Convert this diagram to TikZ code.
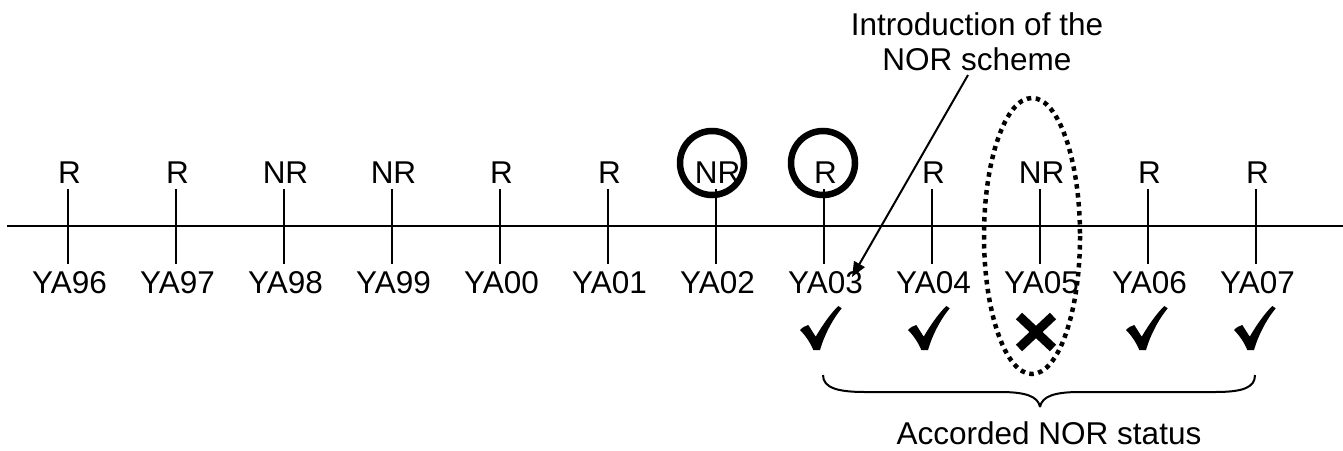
\documentclass[tikz,border=0pt]{standalone}
\usepackage{fontspec}
\setmainfont{Liberation Sans}
\usetikzlibrary{arrows.meta}
\begin{document}
\begin{tikzpicture}[x=1pt,y=-1pt,
  lbl/.style={inner sep=0pt,font=\fontsize{31.5}{36}\selectfont},
  tickline/.style={line width=2pt},
  ring/.style={line width=6.5pt},
  dotring/.style={line width=4.5pt,dash pattern=on 4.5pt off 4.5pt},
  chk/.style={fill=black},
]
\useasboundingbox (0,0) rectangle (1343,450);
% timeline
\coordinate (tl0) at (7,226);
\coordinate (tl1) at (1343,226);
\draw[tickline] (tl0) -- (tl1);
\foreach \i/\t/\y in {0/R/96,1/R/97,2/NR/98,3/NR/99,4/R/00,5/R/01,6/NR/02,7/R/03,8/R/04,9/NR/05,10/R/06,11/R/07}{
  \pgfmathsetmacro{\xx}{68+108*\i}
  \coordinate (tt\i) at (\xx,189);
  \coordinate (tb\i) at (\xx,264);
  \draw[tickline] (tt\i) -- (tb\i);
  \node[lbl,anchor=base] (top\i) at (\xx+1.5,183) {\t};
  \node[lbl,anchor=base] (bot\i) at (\xx+1.5,293.5) {YA\y};
}
% circles
\node[ring,draw,circle,minimum size=64pt,inner sep=0pt] (c6) at (712,163) {};
\node[ring,draw,circle,minimum size=64pt,inner sep=0pt] (c7) at (823,163) {};
% dotted ellipse
\draw[dotring] (1032,236) ellipse [x radius=48, y radius=138];
% introduction label and arrow
\node[lbl,align=center,anchor=base] (intro) at (977,70) {Introduction of the\\[-1pt]NOR scheme};
\coordinate (arS) at (968,75);
\coordinate (arE) at (852,277);
\draw[line width=2pt,-{Triangle[length=15pt,width=12pt]}] (arS) -- (arE);
% checkmarks
\foreach \cx in {822,930,1148,1256}{
  \fill[chk,shift={(\cx-22,306)}] (0,24) .. controls (3,21) and (5,20) .. (8.3,19) -- (15.7,30.7) .. controls (22,20) and (30,8) .. (38.3,0) -- (41.7,2.3) .. controls (32,14) and (24,30) .. (20,44) -- (13.3,44) .. controls (10,36) and (5,29) .. (0,24) -- cycle;
}
% cross
\coordinate (x1) at (1019,316);
\coordinate (x2) at (1053,348);
\coordinate (x3) at (1053,316);
\coordinate (x4) at (1019,348);
\draw[line width=9pt] (x1) -- (x2);
\draw[line width=9pt] (x3) -- (x4);
% brace
\coordinate (bL) at (823,375);
\coordinate (bM) at (1040,407);
\coordinate (bR) at (1255,375);
\draw[line width=2pt] (bL) .. controls (823,388) and (838,392) .. (865,392) -- (1000,392) .. controls (1025,392) and (1038,396) .. (bM)
  (bM) .. controls (1042,396) and (1055,392) .. (1080,392) -- (1215,392) .. controls (1242,392) and (1255,388) .. (bR);
\node[lbl,anchor=base] (acc) at (1049,444) {Accorded NOR status};
\end{tikzpicture}
\end{document}
